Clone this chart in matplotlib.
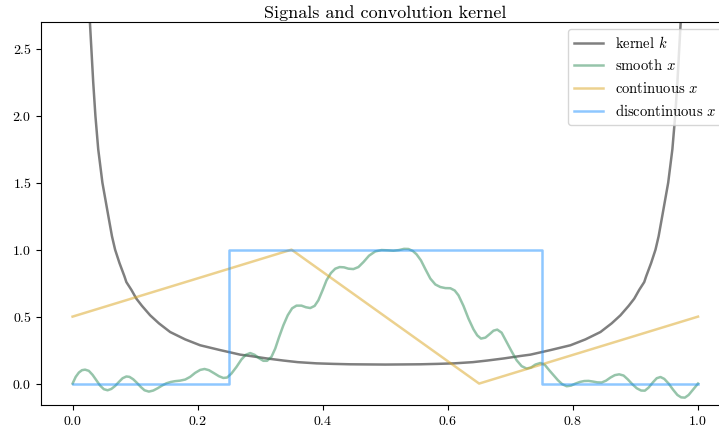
import matplotlib
matplotlib.use("Agg")
import matplotlib.pyplot as plt

plt.rcParams["font.family"] = "serif"
plt.rcParams["font.serif"] = ["cmr10"]
plt.rcParams["mathtext.fontset"] = "cm"
plt.rcParams["axes.unicode_minus"] = False
plt.rcParams["axes.formatter.use_mathtext"] = True

# kernel k
kernel_x = [0.0277, 0.033, 0.0365, 0.041, 0.0477, 0.057, 0.063, 0.068, 0.075, 0.083,
            0.086, 0.094, 0.102, 0.111, 0.124, 0.138, 0.156, 0.18, 0.204, 0.236,
            0.268, 0.284, 0.31, 0.337, 0.36, 0.39, 0.417, 0.444, 0.47, 0.5,
            0.53, 0.556, 0.583, 0.61, 0.64, 0.663, 0.69, 0.716, 0.732, 0.764,
            0.796, 0.82, 0.844, 0.862, 0.876, 0.889, 0.898, 0.906, 0.914, 0.917,
            0.925, 0.932, 0.937, 0.943, 0.9523, 0.959, 0.9635, 0.967, 0.9723]
kernel_y = [2.70, 2.25, 2.0, 1.75, 1.5, 1.256, 1.1, 1.0, 0.9, 0.8,
            0.758, 0.7, 0.634, 0.58, 0.51, 0.45, 0.385, 0.33, 0.286, 0.25,
            0.216, 0.206, 0.188, 0.172, 0.16, 0.151, 0.147, 0.144, 0.143, 0.142,
            0.143, 0.144, 0.147, 0.151, 0.16, 0.172, 0.188, 0.206, 0.216, 0.25,
            0.286, 0.33, 0.385, 0.45, 0.51, 0.58, 0.634, 0.7, 0.758, 0.8,
            0.9, 1.0, 1.1, 1.256, 1.5, 1.75, 2.0, 2.25, 2.70]

smooth_x = [0.000, 0.005, 0.010, 0.015, 0.020, 0.026, 0.032, 0.038, 0.044, 0.050,
            0.056, 0.062, 0.068, 0.074, 0.080, 0.086, 0.091, 0.097, 0.103, 0.109,
            0.115, 0.122, 0.129, 0.136, 0.143, 0.150, 0.157, 0.164, 0.172, 0.180,
            0.188, 0.196, 0.204, 0.211, 0.218, 0.226, 0.234, 0.241, 0.247, 0.254,
            0.262, 0.270, 0.277, 0.284, 0.291, 0.298, 0.305, 0.311, 0.318, 0.324,
            0.330, 0.337, 0.344, 0.351, 0.358, 0.366, 0.373, 0.380, 0.387, 0.393,
            0.400, 0.406, 0.413, 0.420, 0.427, 0.434, 0.441, 0.449, 0.457, 0.465,
            0.474, 0.484, 0.494, 0.504, 0.513, 0.522, 0.530, 0.537, 0.544, 0.550,
            0.557, 0.564, 0.572, 0.580, 0.588, 0.596, 0.604, 0.611, 0.617, 0.625,
            0.633, 0.641, 0.647, 0.653, 0.660, 0.667, 0.673, 0.679, 0.686, 0.694,
            0.702, 0.710, 0.718, 0.726, 0.733, 0.740, 0.748, 0.755, 0.762, 0.769,
            0.776, 0.783, 0.790, 0.797, 0.804, 0.811, 0.818, 0.825, 0.832, 0.839,
            0.846, 0.853, 0.860, 0.867, 0.874, 0.881, 0.888, 0.895, 0.902, 0.909,
            0.915, 0.921, 0.928, 0.934, 0.940, 0.946, 0.953, 0.960, 0.967, 0.973,
            0.979, 0.985, 0.992, 1.000]
smooth_y = [0.000, 0.050, 0.082, 0.100, 0.104, 0.095, 0.065, 0.025, -0.015, -0.042,
            -0.050, -0.040, -0.018, 0.012, 0.040, 0.053, 0.050, 0.032, 0.005, -0.025,
            -0.050, -0.060, -0.052, -0.035, -0.015, 0.002, 0.012, 0.018, 0.022, 0.030,
            0.050, 0.080, 0.102, 0.109, 0.100, 0.078, 0.055, 0.042, 0.045, 0.075,
            0.124, 0.180, 0.215, 0.228, 0.215, 0.190, 0.170, 0.170, 0.200, 0.261,
            0.345, 0.435, 0.510, 0.562, 0.582, 0.582, 0.570, 0.564, 0.580, 0.622,
            0.700, 0.771, 0.825, 0.858, 0.870, 0.868, 0.858, 0.855, 0.870, 0.907,
            0.955, 0.987, 0.997, 0.995, 0.992, 0.997, 1.006, 1.005, 0.990, 0.965,
            0.920, 0.855, 0.784, 0.740, 0.721, 0.713, 0.712, 0.695, 0.659, 0.580,
            0.485, 0.405, 0.360, 0.336, 0.343, 0.370, 0.395, 0.403, 0.380, 0.310,
            0.240, 0.174, 0.130, 0.112, 0.120, 0.142, 0.154, 0.140, 0.100, 0.062,
            0.025, -0.005, -0.020, -0.015, 0.000, 0.012, 0.019, 0.020, 0.015, 0.009,
            0.008, 0.022, 0.045, 0.063, 0.069, 0.060, 0.030, -0.005, -0.035, -0.052,
            -0.053, -0.030, 0.010, 0.040, 0.049, 0.035, 0.000, -0.045, -0.085, -0.103,
            -0.105, -0.085, -0.045, 0.000]

cont_x = [0.0, 0.35, 0.65, 1.0]
cont_y = [0.5, 1.0, 0.0, 0.5]

disc_x = [0.0, 0.25, 0.25, 0.75, 0.75, 1.0]
disc_y = [0.0, 0.0, 1.0, 1.0, 0.0, 0.0]

fig = plt.figure(figsize=(7.19, 4.36), dpi=100)
ax = fig.add_axes([41.3 / 719, 31 / 436, 688 / 719, 383 / 436])

ax.plot(kernel_x, kernel_y, color="black", alpha=0.5, linewidth=1.8, label="kernel $k$")
ax.plot(smooth_x, smooth_y, color="seagreen", alpha=0.5, linewidth=1.8, label="smooth $x$")
ax.plot(cont_x, cont_y, color="goldenrod", alpha=0.5, linewidth=1.8, label="continuous $x$")
ax.plot(disc_x, disc_y, color="dodgerblue", alpha=0.5, linewidth=1.8, label="discontinuous $x$")

ax.set_xlim(-0.05, 1.05)
ax.set_ylim(-0.16, 2.70)
ax.set_xticks([0.0, 0.2, 0.4, 0.6, 0.8, 1.0])
ax.set_yticks([0.0, 0.5, 1.0, 1.5, 2.0, 2.5])
ax.tick_params(labelsize=10, top=False, right=False)
ax.set_title("Signals and convolution kernel", fontsize=13, pad=3)
ax.legend(loc="upper right", fontsize=10.5)

fig.savefig("out.png", dpi=100)
